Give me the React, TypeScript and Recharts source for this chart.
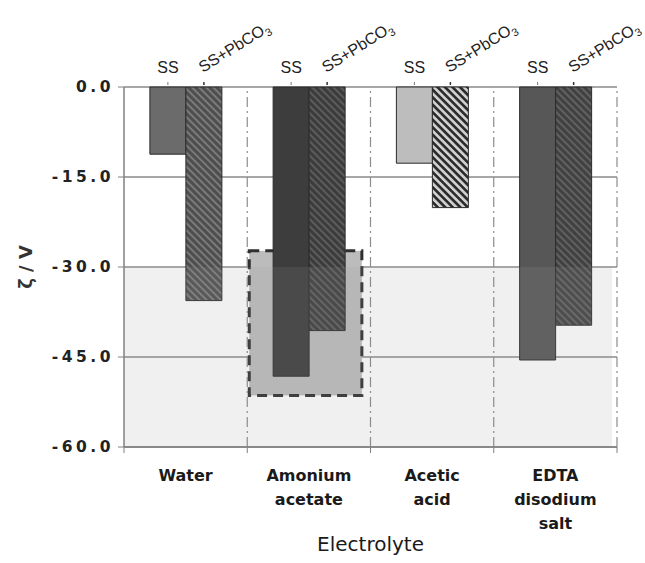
import React from 'react';
import {
    BarChart,
    Bar,
    XAxis,
    YAxis,
    CartesianGrid,
    ReferenceArea,
    ReferenceLine,
    LabelList,
    Cell,
    Label
} from 'recharts';

const electrolytes = ['Water', 'Amonium acetate', 'Acetic acid', 'EDTA disodium salt'];
const electrolyteLines = [['Water'], ['Amonium', 'acetate'], ['Acetic', 'acid'], ['EDTA', 'disodium', 'salt']];
const ssValues = [-11.2, -48.2, -12.7, -45.5];
const ssPbValues = [-35.6, -40.6, -20.1, -39.7];
const ssColors = ['#6b6b6b', '#3d3d3d', '#bdbdbd', '#575757'];
const hatchIds = ['hatchWater', 'hatchAmon', 'hatchAcetic', 'hatchEdta'];
const yTicks = [0, -15, -30, -45, -60];
const highlightCategory = 'Amonium acetate';
const highlightRange = [-27.3, -51.4];
const shadedRange = [-30, -60];

const data = electrolytes.map((name, i) => ({ name, ss: ssValues[i], ssPb: ssPbValues[i] }));

const BOLD = '"DejaVu Sans", Verdana, sans-serif';
const PLAIN = '"Liberation Sans", Arial, sans-serif';

// stripes run top-left -> bottom-right
const Hatch = ({ id, bg, fg, size, line }: any) => (
    <pattern id={id} patternUnits="userSpaceOnUse" width={size} height={size} patternTransform="rotate(45)">
        <rect width={size} height={size} fill={bg} />
        <rect width={size} height={line} fill={fg} />
    </pattern>
);

const YTick = ({ x, y, payload }: any) => (
    <text x={x} y={y} dy={5} textAnchor="end" fontFamily={BOLD} fontWeight="bold" fontSize={15.5} letterSpacing={3.5} fill="#222">
        {Number(payload.value).toFixed(1)}
    </text>
);

const XTick = ({ x, y, payload }: any) => {
    const idx = electrolytes.indexOf(payload.value);
    const half = payload.offset ?? 0;
    return (
        <g>
            {idx === 0 && <line x1={x - half} x2={x - half} y1={y} y2={y + 6} stroke="#808080" />}
            <line x1={x + half} x2={x + half} y1={y} y2={y + 6} stroke="#808080" />
            <text textAnchor="middle" fontFamily={BOLD} fontWeight="bold" fontSize={16} fill="#1a1a1a">
                {(electrolyteLines[idx] || []).map((t, i) => (
                    <tspan key={i} x={x} y={y + 34 + i * 24}>{t}</tspan>
                ))}
            </text>
        </g>
    );
};

const barTop = (p: any) => Math.min(Number(p.y), Number(p.y) + Number(p.height));

const SsLabel = (p: any) => {
    const cx = Number(p.x) + Number(p.width) / 2;
    const top = barTop(p);
    return (
        <g>
            <line x1={cx} x2={cx} y1={top - 5} y2={top - 2} stroke="#777" />
            <text x={cx} y={top - 14} textAnchor="middle" fontFamily={PLAIN} fontSize={16} fill="#222">SS</text>
        </g>
    );
};

const PbLabel = (p: any) => {
    const cx = Number(p.x) + Number(p.width) / 2;
    const top = barTop(p);
    const tx = cx - 1;
    const ty = top - 14;
    return (
        <g>
            <line x1={cx} x2={cx} y1={top - 5} y2={top - 2} stroke="#333" strokeWidth={1.5} />
            <text x={tx} y={ty} transform={`rotate(-32 ${tx} ${ty})`} fontFamily={PLAIN} fontSize={16} fill="#222">
                SS+PbCO<tspan fontSize={11} dy={4}>3</tspan>
            </text>
        </g>
    );
};

const HighlightBox = (p: any) => (
    <rect
        x={p.x + 2}
        y={p.y}
        width={p.width * 0.93 - 2}
        height={p.height}
        fill="#bcbcbc"
        stroke="#2f2f2f"
        strokeWidth={3}
        strokeDasharray="10 6"
    />
);

const ShadeBox = (p: any) => (
    <rect x={p.x} y={p.y} width={p.width - 5} height={p.height} fill="#9a9a9a" fillOpacity={0.15} />
);

export default function App() {
    return (
        <div>
            <style>{'body{margin:0;background:#fff}'}</style>
            <BarChart
                width={645}
                height={563}
                data={data}
                margin={{ top: 87, right: 28, left: 0, bottom: 0 }}
                barCategoryGap="21%"
                barGap={0}
            >
                <defs>
                    <Hatch id="hatchWater" bg="#4e4e4e" fg="#7a7a7a" size={5} line={2} />
                    <Hatch id="hatchAmon" bg="#3c3c3c" fg="#5c5c5c" size={5} line={2} />
                    <Hatch id="hatchAcetic" bg="#d2d2d2" fg="#2c2c2c" size={5.3} line={2.7} />
                    <Hatch id="hatchEdta" bg="#414141" fg="#616161" size={5} line={2} />
                </defs>
                <CartesianGrid vertical={false} stroke="#8a8a8a" strokeWidth={1.3} />
                <ReferenceArea
                    x1={highlightCategory}
                    x2={highlightCategory}
                    y1={highlightRange[0]}
                    y2={highlightRange[1]}
                    shape={HighlightBox}
                    zIndex={100}
                />
                <Bar dataKey="ss" isAnimationActive={false} stroke="#2b2b2b" strokeWidth={1}>
                    {data.map((d, i) => (
                        <Cell key={d.name} fill={ssColors[i]} />
                    ))}
                    <LabelList dataKey="ss" content={SsLabel} />
                </Bar>
                <Bar dataKey="ssPb" isAnimationActive={false} stroke="#2b2b2b" strokeWidth={1}>
                    {data.map((d, i) => (
                        <Cell key={d.name} fill={`url(#${hatchIds[i]})`} />
                    ))}
                    <LabelList dataKey="ssPb" content={PbLabel} />
                </Bar>
                <ReferenceArea
                    y1={shadedRange[0]}
                    y2={shadedRange[1]}
                    shape={ShadeBox}
                    zIndex={350}
                />
                {electrolytes.map((name) => (
                    <ReferenceLine
                        key={name}
                        x={name}
                        position="end"
                        stroke="#8c8c8c"
                        strokeWidth={1.2}
                        strokeDasharray="10 4 2 4"
                    />
                ))}
                <XAxis
                    dataKey="name"
                    interval={0}
                    height={116}
                    tickLine={false}
                    tickSize={0}
                    tickMargin={0}
                    axisLine={{ stroke: '#808080', strokeWidth: 1.5 }}
                    tick={<XTick />}
                    label={
                        <Label
                            content={(p: any) => {
                                const vb = p.viewBox;
                                return (
                                    <text x={vb.x + vb.width / 2} y={vb.y + 104} textAnchor="middle" fontFamily={BOLD} fontSize={20} fill="#1a1a1a">
                                        Electrolyte
                                    </text>
                                );
                            }}
                        />
                    }
                />
                <YAxis
                    width={124}
                    domain={[-60, 0]}
                    ticks={yTicks}
                    tickSize={6}
                    tickMargin={4}
                    axisLine={{ stroke: '#808080', strokeWidth: 1.5 }}
                    tickLine={{ stroke: '#808080' }}
                    tick={<YTick />}
                    label={
                        <Label
                            content={(p: any) => {
                                const vb = p.viewBox;
                                const cx = vb.x + 25;
                                const cy = vb.y + vb.height / 2;
                                return (
                                    <text x={cx} y={cy} transform={`rotate(-90 ${cx} ${cy})`} textAnchor="middle" dominantBaseline="central" fontFamily={BOLD} fontWeight="bold" fontSize={18} fill="#333">
                                        ζ / V
                                    </text>
                                );
                            }}
                        />
                    }
                />
            </BarChart>
        </div>
    );
}
